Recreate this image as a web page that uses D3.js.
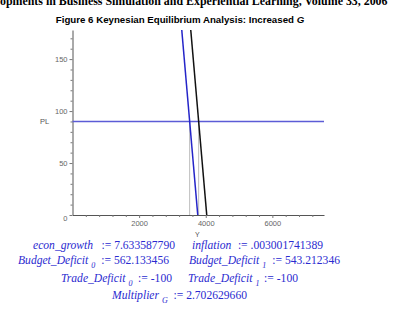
<!DOCTYPE html>
<html>
<head>
<meta charset="utf-8">
<script src="https://cdn.jsdelivr.net/npm/d3@7"></script>
<style>
  body { margin: 0; background: #fff; }
  svg { display: block; }
</style>
</head>
<body>
<svg id="chart" width="409" height="309"></svg>
<script>
// curves (Y = output, PL = price level)
const adBefore = [{ pl: 0, y: 3760 }, { pl: 178, y: 3280 }];
const adAfter = [{ pl: 0, y: 4030 }, { pl: 178, y: 3550 }];
const asLevel = [{ pl: 90, y: 0 }, { pl: 90, y: 7550 }];
const equilibria = [3517, 3787];
const xTicks = [2000, 4000, 6000];
const yTicks = [0, 50, 100, 150];
const results = [
  [['econ_growth', null, '7.633587790'], ['inflation', null, '.003001741389']],
  [['Budget_Deficit', '0', '562.133456'], ['Budget_Deficit', '1', '543.212346']],
  [['Trade_Deficit', '0', '-100'], ['Trade_Deficit', '1', '-100']],
  [['Multiplier', 'G', '2.702629660']]
];

const svg = d3.select('#chart');
const x = d3.scaleLinear().domain([0, 7550]).range([72.5, 324]);
const y = d3.scaleLinear().domain([0, 178]).range([215, 30]);

svg.append('text')
  .attr('x', 0).attr('y', 5)
  .attr('font-family', 'Liberation Serif, Times New Roman, serif')
  .attr('font-weight', 'bold').attr('font-size', 11.9)
  .text('opments in Business Simulation and Experiential Learning, Volume 33, 2006');

const title = svg.append('text')
  .attr('x', 180).attr('y', 23)
  .attr('text-anchor', 'middle')
  .attr('font-family', 'Liberation Sans, Arial, sans-serif')
  .attr('font-weight', 'bold').attr('font-size', 9.7);
title.append('tspan').text('Figure 6 Keynesian Equilibrium Analysis: Increased ');
title.append('tspan').attr('font-style', 'italic').text('G');

// minor ticks
const minorX = d3.range(400, 7550, 400).filter(v => v % 2000 !== 0);
const minorY = d3.range(10, 178, 10).filter(v => v % 50 !== 0);

const xAxis = svg.append('g')
  .attr('transform', `translate(0,${y(0)})`)
  .call(d3.axisBottom(x).tickValues(xTicks).tickSize(3).tickSizeOuter(0).tickFormat(d3.format('d')));
svg.append('g')
  .attr('transform', `translate(0,${y(0)})`)
  .call(d3.axisBottom(x).tickValues(minorX).tickSize(2).tickSizeOuter(0).tickFormat(''))
  .select('.domain').remove();

const yAxis = svg.append('g')
  .attr('transform', `translate(${x(0)},0)`)
  .call(d3.axisLeft(y).tickValues(yTicks).tickSize(3).tickSizeOuter(0).tickFormat(d3.format('d')));
svg.append('g')
  .attr('transform', `translate(${x(0)},0)`)
  .call(d3.axisLeft(y).tickValues(minorY).tickSize(2).tickSizeOuter(0).tickFormat(''))
  .select('.domain').remove();

svg.selectAll('.domain').attr('stroke', '#555');
svg.selectAll('.tick line').attr('stroke', '#777');
svg.selectAll('.tick text')
  .attr('fill', '#666')
  .attr('font-family', 'Liberation Sans, Arial, sans-serif')
  .attr('font-size', 7.5);
xAxis.selectAll('.tick text').attr('dy', '0.6em');
yAxis.selectAll('.tick text').attr('x', -5);
yAxis.selectAll('.tick').filter(d => d === 0).select('text').attr('dy', '0.7em');

svg.append('text')
  .attr('x', 40).attr('y', y(90) + 3)
  .attr('fill', '#555')
  .attr('font-family', 'Liberation Sans, Arial, sans-serif').attr('font-size', 7.5)
  .text('PL');
svg.append('text')
  .attr('x', x(3750)).attr('y', 237)
  .attr('text-anchor', 'middle')
  .attr('fill', '#555')
  .attr('font-family', 'Liberation Sans, Arial, sans-serif').attr('font-size', 7)
  .text('Y');

const line = d3.line().x(d => x(d.y)).y(d => y(d.pl));

// drop lines from the equilibria
svg.selectAll('.drop')
  .data(equilibria)
  .enter()
  .append('line')
  .attr('class', 'drop')
  .attr('x1', d => x(d)).attr('x2', d => x(d))
  .attr('y1', y(90)).attr('y2', y(0))
  .attr('stroke', '#bdbdbd').attr('stroke-width', 1);

svg.append('path').datum(asLevel).attr('d', line)
  .attr('fill', 'none').attr('stroke', '#5c5cd6').attr('stroke-width', 1.5);
svg.append('path').datum(adBefore).attr('d', line)
  .attr('fill', 'none').attr('stroke', '#2424c8').attr('stroke-width', 1.5);
svg.append('path').datum(adAfter).attr('d', line)
  .attr('fill', 'none').attr('stroke', '#111').attr('stroke-width', 1.5);

// Maple output lines: name starts at x0, ":= value" ends at x1
const rowY = [249, 264, 282, 299];
const cellSpan = [[[33, 175], [192, 323]], [[18, 169], [189, 340]], [[61, 172], [188, 298]], [[112, 247]]];
const blue = '#2b2bd0';
const fs = 11.6;
results.forEach((row, i) => {
  row.forEach((cell, j) => {
    const [x0, x1] = cellSpan[i][j];
    const name = svg.append('text')
      .attr('x', x0).attr('y', rowY[i])
      .attr('fill', blue)
      .attr('font-family', 'Liberation Serif, Times New Roman, serif')
      .attr('font-size', fs)
      .attr('font-style', 'italic');
    name.append('tspan').text(cell[0]);
    if (cell[1] !== null) {
      name.append('tspan').attr('font-size', 8).attr('dx', 3).attr('dy', 4).text(cell[1]);
    }
    svg.append('text')
      .attr('x', x1).attr('y', rowY[i])
      .attr('text-anchor', 'end')
      .attr('fill', blue)
      .attr('font-family', 'Liberation Serif, Times New Roman, serif')
      .attr('font-size', fs)
      .text(':= ' + cell[2]);
  });
});
</script>
</body>
</html>
